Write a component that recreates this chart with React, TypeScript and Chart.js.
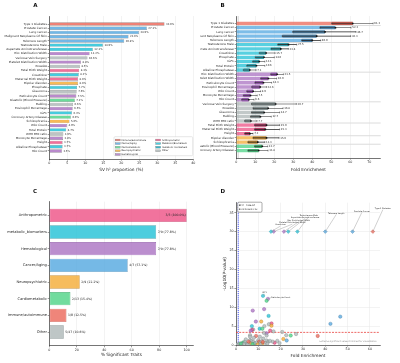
import React, { useEffect, useRef } from 'react';
import { Chart, registerables } from 'chart.js';

Chart.register(...registerables);

const FONT = '"DejaVu Sans", "Liberation Sans", Arial, sans-serif';
const INK = '#262626';
const GRID_COLOR = '#e6e6e6';
const SPINE = '#3a3a3a';

const IM = 'Immune/autoimmune';
const CA = 'Cancer/aging';
const CM = 'Cardiometabolic';
const NP = 'Neuropsychiatric';
const HE = 'Hematological';
const AN = 'Anthropometric';
const MB = 'Metabolic/Biomarkers';
const MB2 = 'metabolic_biomarkers';
const OT = 'Other';

const COLORS: Record<string, string> = {
  [IM]: '#ec7063',
  [CA]: '#5dade2',
  [CM]: '#58d68d',
  [NP]: '#f5b041',
  [HE]: '#af7ac5',
  [AN]: '#ef5b8c',
  [MB]: '#2ec4d8',
  [MB2]: '#17a9bd',
  [OT]: '#b3bcbc',
};
const DARK: Record<string, string> = {
  [IM]: '#b03a2e',
  [CA]: '#2e6f9e',
  [CM]: '#239b56',
  [NP]: '#b9770e',
  [HE]: '#7d3c98',
  [AN]: '#a3174a',
  [MB]: '#138d9c',
  [MB2]: '#0e6f7c',
  [OT]: '#6c7a7b',
};

// ---------------- Panel A ----------------
const aTraits = ['Type 1 Diabetes', 'Prostate Cancer', 'Lung cancer', 'Malignant Neoplasms Of Skin', 'Telomere Length', 'Testosterone Male', 'Aspartate Aminotransferase', 'Rbc Distribution Width', 'Varicose Vein Surgery', 'Platelet Distribution Width', 'KneeOA', 'Fetal Birth Weight', 'Creatinine', 'Maternal Birth Weight', 'Bipolar disorder', 'Phosphate', 'Glaucoma', 'Reticulocyte Count', 'Diastolic (Blood Pressure)', 'Balding', 'Eosinophil Percentage', 'IGF1', 'Coronary Artery Disease', 'Schizophrenia', 'Wbc Count', 'Total Protein', 'WHR BMI ratio', 'Monocyte Percentage', 'Height', 'Alkaline Phosphatase', 'Rbc Count'];
const aValues = [32.0, 27.1, 24.9, 22.0, 20.8, 14.9, 12.1, 11.2, 10.6, 8.8, 8.5, 8.3, 8.2, 8.0, 8.0, 7.7, 7.6, 7.5, 7.1, 6.6, 6.5, 6.3, 6.0, 5.6, 4.9, 4.7, 3.9, 3.8, 3.7, 3.7, 3.5];
const aGroups = [IM, CA, CA, CA, CA, MB, MB, HE, OT, HE, OT, AN, MB, AN, NP, MB, OT, HE, CM, OT, HE, MB, CM, NP, HE, MB, OT, HE, AN, MB, HE];
const aXTicks = [0, 5, 10, 15, 20, 25, 30, 35, 40];
const aLegendLeft = [IM, CA, CM, NP, HE];
const aLegendRight = [AN, MB, MB2, OT];

// ---------------- Panel B ----------------
const bTraits = ['Type 1 Diabetes', 'Prostate Cancer', 'Lung cancer', 'Malignant Neoplasms Of Skin', 'Telomere Length', 'Testosterone Male', 'Aspartate Aminotransferase', 'Creatinine', 'Phosphate', 'IGF1', 'Total Protein', 'Alkaline Phosphatase', 'Rbc Distribution Width', 'Platelet Distribution Width', 'Reticulocyte Count', 'Eosinophil Percentage', 'Wbc Count', 'Monocyte Percentage', 'Rbc Count', 'Varicose Vein Surgery', 'KneeOA', 'Glaucoma', 'Balding', 'WHR BMI ratio', 'Fetal Birth Weight', 'Maternal Birth Weight', 'Height', 'Bipolar disorder', 'Schizophrenia', 'Diastolic (Blood Pressure)', 'Coronary Artery Disease'];
const bEst = [61.3, 52.2, 46.7, 42.3, 40.0, 27.5, 23.4, 15.7, 14.6, 12.1, 10.6, 7.1, 21.5, 16.9, 14.3, 12.6, 8.9, 7.5, 6.6, 20.7, 16.8, 14.7, 12.7, 7.7, 15.9, 15.3, 7.2, 15.9, 11.3, 13.7, 11.8];
const bLow = [50.2, 44.0, 29.7, 24.2, 34.4, 21.8, 18.3, 12.1, 10.0, 8.6, 5.5, 3.7, 18.1, 12.8, 9.8, 8.1, 5.5, 3.7, 2.8, 8.0, 8.8, 8.0, 7.5, 4.4, 9.6, 9.6, 4.4, 8.8, 6.1, 9.6, 6.1];
const bHigh = [72.0, 60.4, 63.0, 60.2, 44.4, 31.8, 27.4, 20.4, 20.0, 15.0, 15.0, 10.4, 24.8, 21.2, 18.6, 16.0, 12.8, 11.0, 9.3, 31.6, 24.6, 22.8, 18.4, 10.9, 22.8, 22.8, 8.8, 22.5, 15.0, 16.5, 16.7];
const bGroups = [IM, CA, CA, CA, CA, MB, MB, MB, MB, MB, MB, MB, HE, HE, HE, HE, HE, HE, HE, OT, OT, OT, OT, OT, AN, AN, AN, NP, NP, CM, CM];
const bXTicks = [0, 10, 20, 30, 40, 50, 60, 70];

// ---------------- Panel C ----------------
const cCategories = ['Anthropometric', 'metabolic_biomarkers', 'Hematological', 'Cancer/Aging', 'Neuropsychiatric', 'Cardiometabolic', 'Immune/autoimmune', 'Other'];
const cGroups = [AN, MB, HE, CA, NP, CM, IM, OT];
const cSignificant = [3, 7, 7, 4, 2, 2, 1, 5];
const cTotal = [3, 9, 9, 7, 9, 13, 8, 47];
const cPercent = [100.0, 77.8, 77.8, 57.1, 22.2, 15.4, 12.5, 10.6];
const cXTicks = [0, 20, 40, 60, 80, 100];

// ---------------- Panel D ----------------
const D_CAP = 30;
const BF_P = 4.6e-4;
const ENRICH_MIN = 1;
const dSigNames = ['Type 1 Diabetes', 'Prostate Cancer', 'Telomere Length', 'Testosterone Male', 'Aspartate Aminotransferase', 'Rbc Distribution Width', 'Platelet Distribution Width', 'Creatinine', 'Lung cancer', 'Malignant Neoplasms Of Skin', 'IGF1', 'Reticulocyte Count', 'Diastolic (Blood Pressure)', 'Eosinophil Percentage', 'Monocyte Percentage', 'Phosphate', 'Wbc Count', 'Schizophrenia', 'Fetal Birth Weight', 'Glaucoma', 'Bipolar disorder', 'Balding', 'Alkaline Phosphatase', 'Total Protein', 'Coronary Artery Disease', 'WHR BMI ratio', 'Height', 'Rbc Count', 'Maternal Birth Weight', 'KneeOA', 'Varicose Vein Surgery'];
const dSigFold = [61.3, 52.2, 40.0, 27.5, 23.4, 21.5, 16.9, 15.7, 46.7, 42.3, 12.1, 14.3, 13.7, 12.6, 7.5, 14.6, 8.9, 11.3, 15.9, 14.7, 15.9, 12.7, 7.1, 10.6, 11.8, 7.7, 7.2, 6.6, 15.3, 16.8, 20.7];
const dSigLogP = [30, 30, 30, 30, 30, 30, 30, 30, 7.5, 5.6, 13.0, 12.2, 11.7, 9.5, 9.1, 7.7, 6.2, 6.2, 5.7, 5.5, 5.1, 5.0, 5.0, 4.3, 4.3, 4.1, 4.0, 3.8, 3.8, 3.6, 3.45];
const dSigGroups = [IM, CA, CA, MB, MB, HE, HE, MB, CA, CA, MB, HE, CM, HE, HE, MB, HE, NP, AN, OT, NP, OT, MB, MB, CM, OT, AN, HE, AN, OT, OT];
const dNsFold = [22.5, 24.5, 26.9, 36.6, 17.3, 18.5, 21.2, 22.7, 16.4, 13.7, 13.7, 9.0, 6.3, 6.3, 8.0, 10.7, 12.5, 1.8, 3.0, 3.4, 4.0, 4.8, 6.0, 6.3, 6.8, 7.0, 7.8, 8.2, 8.5, 9.3, 10.0, 10.4, 10.7, 11.5, 11.8, 12.2, 13.0, 13.7, 14.5, 15.2, 0.7, 1.2, 0.3, 2.5, 2.2, 5.2, 5.6, 7.4, 9.8, 3.6, 11.0, 12.0, 14.0, 19.5, 4.4];
const dNsLogP = [2.6, 2.5, 2.9, 2.4, 0.6, 1.1, 1.6, 1.2, 0.9, 3.1, 2.5, 2.4, 2.6, 2.2, 1.9, 2.2, 3.2, 0.44, 0.6, 0.7, 0.8, 0.26, 0.6, 1.3, 0.5, 1.1, 0.8, 0.3, 0.44, 0.7, 1.3, 0.9, 0.5, 1.0, 0.4, 1.7, 0.6, 1.2, 0.9, 1.1, 0.1, 0.2, 0.1, 0.2, 0.35, 0.15, 0.9, 0.2, 0.15, 0.3, 0.2, 0.8, 0.35, 0.5, 1.5];
const dNsGroups = [OT, CM, OT, IM, AN, OT, NP, CA, OT, HE, OT, IM, OT, OT, OT, OT, OT, OT, OT, CM, OT, OT, OT, OT, NP, OT, OT, CM, OT, OT, OT, IM, OT, OT, NP, OT, OT, OT, OT, OT, OT, OT, OT, OT, CM, OT, IM, CM, NP, OT, OT, IM, OT, OT, OT];
const dXTicks = [0, 10, 20, 30, 40, 50, 60];
const dYTicks = [0, 5, 10, 15, 20, 25, 30, 35];
// label placement for annotated points: [name, dx, dy, align]
const dAnnotations: [string, number, number, string][] = [
  ['Type 1 Diabetes', 10, -22, 'c'],
  ['Prostate Cancer', 9.3, -19.2, 'c'],
  ['Telomere Length', 11, -17.2, 'c'],
  ['Testosterone Male', 11.3, -14.9, 'c'],
  ['Aspartate Aminotransferase', 16.9, -13.2, 'c'],
  ['Rbc Distribution Width', 14.7, -9.9, 'c'],
  ['Platelet Distribution Width', 18.6, -7.5, 'c'],
  ['Creatinine', 9.3, -5.5, 'c'],
  ['IGF1', 1.4, -2, 'c'],
  ['Reticulocyte Count', 3.4, -1.7, 'l'],
];

function hexA(hex: string, a: number) {
  const n = parseInt(hex.slice(1), 16);
  return `rgba(${n >> 16},${(n >> 8) & 255},${n & 255},${a})`;
}
const tf = (size: number, weight?: string) => ({ family: FONT, size, weight });

function valueAxis(min: number, max: number, tickValues: number[], title: string, titlePad: number, height: number) {
  return {
    type: 'linear', bounds: 'data', min, max, offset: false,
    afterBuildTicks: (s: any) => { s.ticks = tickValues.map((v) => ({ value: v })); },
    ticks: { autoSkip: false, font: tf(3.3), color: INK, padding: 0.8, maxRotation: 0 },
    grid: { display: true, color: GRID_COLOR, lineWidth: 0.5, tickLength: 1.6, tickColor: SPINE, tickWidth: 0.5, offset: false },
    border: { color: SPINE, width: 0.7 },
    title: { display: true, text: title, font: tf(4.3), color: INK, padding: { top: 0, bottom: titlePad } },
    afterFit: (s: any) => { s.height = height; },
  };
}

function indexAxis(labels: string[], pad: number, width: number, fontSize: number) {
  return {
    type: 'linear', bounds: 'data', reverse: true, min: -pad, max: labels.length - 1 + pad, offset: false,
    afterBuildTicks: (s: any) => { s.ticks = labels.map((_, i) => ({ value: i })); },
    ticks: { autoSkip: false, callback: (v: any) => labels[v] ?? '', font: tf(fontSize), color: INK, padding: 0.8 },
    grid: { drawOnChartArea: false, tickLength: 1.6, tickColor: SPINE, tickWidth: 0.5, offset: false },
    border: { color: SPINE, width: 0.7 },
    afterFit: (s: any) => { s.width = width; },
  };
}

function baseOptions(padding: any) {
  return {
    responsive: false, animation: false, events: [],
    layout: { padding },
    plugins: { legend: { display: false }, tooltip: { enabled: false }, title: { display: false } },
  };
}

function letterPlugin(letter: string, x: number, y: number) {
  return {
    id: 'letter' + letter,
    afterDraw(chart: any) {
      const ctx = chart.ctx;
      ctx.save();
      ctx.font = `bold 5.5px ${FONT}`;
      ctx.fillStyle = '#111';
      ctx.textAlign = 'center';
      ctx.textBaseline = 'middle';
      ctx.fillText(letter, x, y);
      ctx.restore();
    },
  };
}

function line(ctx: any, x1: number, y1: number, x2: number, y2: number) {
  ctx.beginPath();
  ctx.moveTo(x1, y1);
  ctx.lineTo(x2, y2);
  ctx.stroke();
}

// ---------- A ----------
const aLabelPlugin = {
  id: 'aLabels',
  afterDatasetsDraw(chart: any) {
    const { ctx, scales: { x, y } } = chart;
    ctx.save();
    ctx.font = `2.6px ${FONT}`;
    ctx.fillStyle = INK;
    ctx.textAlign = 'left';
    ctx.textBaseline = 'middle';
    aValues.forEach((v, i) => ctx.fillText(`${v.toFixed(1)}%`, x.getPixelForValue(v) + 1.5, y.getPixelForValue(i)));
    ctx.restore();
  },
};

const aLegendPlugin = {
  id: 'aLegend',
  afterDraw(chart: any) {
    const { ctx, chartArea: ca } = chart;
    const w = 78.7, h = 19;
    const left = ca.right - 0.6 - w, top = ca.bottom - 3.3 - h;
    ctx.save();
    ctx.fillStyle = 'rgba(255,255,255,0.9)';
    ctx.strokeStyle = '#cfcfcf';
    ctx.lineWidth = 0.5;
    ctx.beginPath();
    if (ctx.roundRect) ctx.roundRect(left, top, w, h, 1); else ctx.rect(left, top, w, h);
    ctx.fill();
    ctx.stroke();
    ctx.font = `2.3px ${FONT}`;
    ctx.textAlign = 'left';
    ctx.textBaseline = 'middle';
    [aLegendLeft, aLegendRight].forEach((col, c) => {
      col.forEach((name, r) => {
        const sx = left + 1.2 + c * 40.5, sy = top + 3.3 + r * 3.6;
        ctx.fillStyle = hexA(COLORS[name], 0.85);
        ctx.fillRect(sx, sy - 0.9, 5, 1.8);
        ctx.strokeStyle = '#777';
        ctx.lineWidth = 0.3;
        ctx.strokeRect(sx, sy - 0.9, 5, 1.8);
        ctx.fillStyle = INK;
        ctx.fillText(name, sx + 6.2, sy);
      });
    });
    ctx.restore();
  },
};

function buildA() {
  return {
    type: 'bar',
    data: {
      datasets: [{
        data: aValues.map((v, i) => ({ x: v, y: i })),
        backgroundColor: aGroups.map((g) => hexA(COLORS[g], 0.88)),
        borderColor: 'rgba(70,70,70,0.75)',
        borderWidth: 0.4,
        borderSkipped: false,
        barPercentage: 0.8,
        categoryPercentage: 1,
      }],
    },
    options: {
      ...baseOptions({ top: 16, right: 6.7, left: 0, bottom: 0 }),
      indexAxis: 'y',
      scales: {
        x: valueAxis(0, 40, aXTicks, 'SV h\u00b2 proportion (%)', 8.4, 22),
        y: indexAxis(aTraits, 1.89, 49.3, 2.9),
      },
    },
    plugins: [aLabelPlugin, aLegendPlugin, letterPlugin('A', 35.3, 5.3)],
  };
}

// ---------- B ----------
const bDecorPlugin = {
  id: 'bDecor',
  beforeDatasetsDraw(chart: any) {
    const { ctx, chartArea: ca, scales: { x, y } } = chart;
    ctx.save();
    ctx.strokeStyle = '#dcdcdc';
    ctx.lineWidth = 1;
    for (let i = 0; i < bGroups.length - 1; i++) {
      if (bGroups[i] !== bGroups[i + 1]) {
        const py = y.getPixelForValue(i + 0.5);
        line(ctx, ca.left, py, ca.right, py);
      }
    }
    ctx.strokeStyle = '#aaaaaa';
    ctx.lineWidth = 0.5;
    const px = x.getPixelForValue(ENRICH_MIN);
    line(ctx, px, ca.top, px, ca.bottom);
    ctx.restore();
  },
  afterDatasetsDraw(chart: any) {
    const { ctx, scales: { x, y } } = chart;
    ctx.save();
    ctx.font = `2.6px ${FONT}`;
    ctx.fillStyle = INK;
    ctx.textAlign = 'left';
    ctx.textBaseline = 'middle';
    bEst.forEach((v, i) => ctx.fillText(v.toFixed(1), x.getPixelForValue(bHigh[i]) + 1.2, y.getPixelForValue(i)));
    ctx.restore();
  },
};

function buildB() {
  const common = { grouped: false, barPercentage: 0.8, categoryPercentage: 1, borderWidth: 0 };
  return {
    type: 'bar',
    data: {
      datasets: [
        { ...common, type: 'bar', order: 5, data: bLow.map((v, i) => ({ x: v, y: i })), backgroundColor: bGroups.map((g) => hexA(COLORS[g], 0.8)) },
        { ...common, type: 'bar', order: 4, data: bLow.map((v, i) => ({ x: [v, bEst[i]], y: i })), backgroundColor: bGroups.map((g) => hexA(DARK[g], 0.85)) },
        { type: 'bar', order: 3, grouped: false, barThickness: 0.55, inflateAmount: 0, borderWidth: 0, data: bLow.map((v, i) => ({ x: [v, bHigh[i]], y: i })), backgroundColor: '#222' },
        { type: 'scatter', order: 2, data: [...bLow.map((v, i) => ({ x: v, y: i })), ...bHigh.map((v, i) => ({ x: v, y: i }))], pointStyle: 'line', rotation: 90, radius: 0.9, borderColor: '#222', borderWidth: 0.5 },
        { type: 'scatter', order: 1, data: bEst.map((v, i) => ({ x: v, y: i })), pointStyle: 'rect', radius: 1.1, backgroundColor: '#111', borderColor: '#111', borderWidth: 0 },
      ],
    },
    options: {
      ...baseOptions({ top: 16, right: 19.3, left: 0, bottom: 0 }),
      indexAxis: 'y',
      scales: {
        x: valueAxis(0, 76, bXTicks, 'Fold Enrichment', 8.4, 23),
        y: indexAxis(bTraits, 1.75, 36.3, 2.9),
      },
    },
    plugins: [bDecorPlugin, letterPlugin('B', 22.7, 5.3)],
  };
}

// ---------- C ----------
const cLabelPlugin = {
  id: 'cLabels',
  afterDatasetsDraw(chart: any) {
    const { ctx, scales: { x, y } } = chart;
    ctx.save();
    ctx.font = `3.1px ${FONT}`;
    ctx.fillStyle = INK;
    ctx.textBaseline = 'middle';
    cPercent.forEach((p, i) => {
      const text = `${cSignificant[i]}/${cTotal[i]} (${p.toFixed(1)}%)`;
      const px = x.getPixelForValue(p);
      if (p >= 95) {
        ctx.textAlign = 'right';
        ctx.fillText(text, px - 1, y.getPixelForValue(i));
      } else {
        ctx.textAlign = 'left';
        ctx.fillText(text, px + 1.5, y.getPixelForValue(i));
      }
    });
    ctx.restore();
  },
};

function buildC() {
  return {
    type: 'bar',
    data: {
      datasets: [{
        data: cPercent.map((v, i) => ({ x: v, y: i })),
        backgroundColor: cGroups.map((g) => hexA(COLORS[g], 0.85)),
        borderColor: cGroups.map((g) => hexA(DARK[g], 0.8)),
        borderWidth: 0.6,
        borderSkipped: false,
        barPercentage: 0.8,
        categoryPercentage: 1,
      }],
    },
    options: {
      ...baseOptions({ top: 20.7, right: 6.5, left: 0, bottom: 0 }),
      indexAxis: 'y',
      scales: {
        x: valueAxis(0, 105, cXTicks, '% Significant Traits', 5.4, 17.3),
        y: indexAxis(cCategories, 0.82, 49.3, 3.6),
      },
    },
    plugins: [cLabelPlugin, letterPlugin('C', 35, 10.7)],
  };
}

// ---------- D ----------
const dDecorPlugin = {
  id: 'dDecor',
  beforeDatasetsDraw(chart: any) {
    const { ctx, chartArea: ca, scales: { x, y } } = chart;
    ctx.save();
    const py = y.getPixelForValue(-Math.log10(BF_P));
    ctx.strokeStyle = '#e8413c';
    ctx.lineWidth = 0.8;
    ctx.setLineDash([2, 1.2]);
    line(ctx, ca.left, py, ca.right, py);
    const px = x.getPixelForValue(ENRICH_MIN);
    ctx.strokeStyle = '#3d4ef0';
    ctx.lineWidth = 1;
    ctx.setLineDash([1.2, 0.9]);
    line(ctx, px, ca.top, px, ca.bottom);
    ctx.restore();
  },
  afterDatasetsDraw(chart: any) {
    const { ctx, chartArea: ca, scales: { x, y } } = chart;
    ctx.save();
    ctx.font = `2px ${FONT}`;
    ctx.textBaseline = 'middle';
    dAnnotations.forEach(([name, dx, dy, align]) => {
      const i = dSigNames.indexOf(name);
      if (i < 0) return;
      const px = x.getPixelForValue(dSigFold[i]);
      const py = y.getPixelForValue(dSigLogP[i]);
      ctx.strokeStyle = '#8a8a8a';
      ctx.lineWidth = 0.4;
      ctx.fillStyle = INK;
      if (align === 'l') {
        line(ctx, px, py, px + dx - 0.3, py + dy + 0.4);
        ctx.textAlign = 'left';
        ctx.fillText(name, px + dx, py + dy);
      } else {
        line(ctx, px, py, px + dx, py + dy);
        ctx.textAlign = 'center';
        ctx.fillText(name, px + dx, py + dy - 1.2);
      }
    });
    // threshold box
    const bx = ca.left + 1.7, by = ca.top - 0.5, bw = 24.3, bh = 10;
    ctx.fillStyle = 'rgba(255,255,255,0.92)';
    ctx.strokeStyle = '#555';
    ctx.lineWidth = 0.5;
    ctx.beginPath();
    if (ctx.roundRect) ctx.roundRect(bx, by, bw, bh, 1.2); else ctx.rect(bx, by, bw, bh);
    ctx.fill();
    ctx.stroke();
    ctx.fillStyle = INK;
    ctx.font = `2.4px ${FONT}`;
    ctx.textAlign = 'left';
    ctx.fillText(`BF P=${BF_P.toExponential(1).replace('e-4', 'e-04')}`, bx + 1, by + 2.8);
    ctx.fillText(`Enrichment>${ENRICH_MIN}x`, bx + 1, by + 7);
    // note
    ctx.fillStyle = '#8c8c8c';
    ctx.font = `2.2px ${FONT}`;
    ctx.textAlign = 'right';
    ctx.fillText('Extreme significant values trimmed for visualization', ca.right - 3.3, ca.bottom - 4);
    ctx.restore();
  },
};

function buildD() {
  const pts = [
    ...dNsFold.map((f, i) => ({ x: f, y: dNsLogP[i], g: dNsGroups[i] })),
    ...dSigFold.map((f, i) => ({ x: f, y: dSigLogP[i], g: dSigGroups[i] })),
  ];
  const yAxis: any = {
    type: 'linear', bounds: 'data', min: 0, max: 37.65, offset: false,
    afterBuildTicks: (s: any) => { s.ticks = dYTicks.map((v) => ({ value: v })); },
    ticks: { autoSkip: false, font: tf(3.3), color: INK, padding: 0.8 },
    grid: { color: GRID_COLOR, lineWidth: 0.5, tickLength: 1.6, tickColor: SPINE, tickWidth: 0.5 },
    border: { color: SPINE, width: 0.7 },
    title: { display: true, text: '-Log10(P-value)', font: tf(4.3), color: INK, padding: { top: 22.4, bottom: 0 } },
    afterFit: (s: any) => { s.width = 36; },
  };
  return {
    type: 'scatter',
    data: {
      datasets: [{
        data: pts.map((p) => ({ x: p.x, y: p.y })),
        pointBackgroundColor: pts.map((p) => hexA(COLORS[p.g], 0.8)),
        pointBorderColor: pts.map((p) => hexA(DARK[p.g], 0.85)),
        pointBorderWidth: 0.4,
        pointRadius: pts.map((p) => (p.y >= D_CAP ? 1.9 : 1.7)),
        pointStyle: pts.map((p) => (p.y >= D_CAP ? 'rectRot' : 'circle')),
      }],
    },
    options: {
      ...baseOptions({ top: 21.7, right: 20, left: 0, bottom: 0 }),
      scales: {
        x: valueAxis(0, 64.5, dXTicks, 'Fold Enrichment', 4.4, 18),
        y: yAxis,
      },
    },
    plugins: [dDecorPlugin, letterPlugin('D', 22.7, 10.7)],
  };
}

export default function App() {
  const aRef = useRef<HTMLCanvasElement | null>(null);
  const bRef = useRef<HTMLCanvasElement | null>(null);
  const cRef = useRef<HTMLCanvasElement | null>(null);
  const dRef = useRef<HTMLCanvasElement | null>(null);

  useEffect(() => {
    const charts = [
      new Chart(aRef.current as HTMLCanvasElement, buildA() as any),
      new Chart(bRef.current as HTMLCanvasElement, buildB() as any),
      new Chart(cRef.current as HTMLCanvasElement, buildC() as any),
      new Chart(dRef.current as HTMLCanvasElement, buildD() as any),
    ];
    return () => charts.forEach((c) => c.destroy());
  }, []);

  const cv = (left: number, top: number, h: number): React.CSSProperties => ({ position: 'absolute', left, top, width: 200, height: h, display: 'block' });
  return (
    <div style={{ position: 'absolute', left: 0, top: 0, width: 400, height: 363, background: '#ffffff', overflow: 'hidden' }}>
      <canvas ref={aRef} width={200} height={181} style={cv(0, 0, 181)} />
      <canvas ref={bRef} width={200} height={181} style={cv(200, 0, 181)} />
      <canvas ref={cRef} width={200} height={182} style={cv(0, 181, 182)} />
      <canvas ref={dRef} width={200} height={182} style={cv(200, 181, 182)} />
    </div>
  );
}
